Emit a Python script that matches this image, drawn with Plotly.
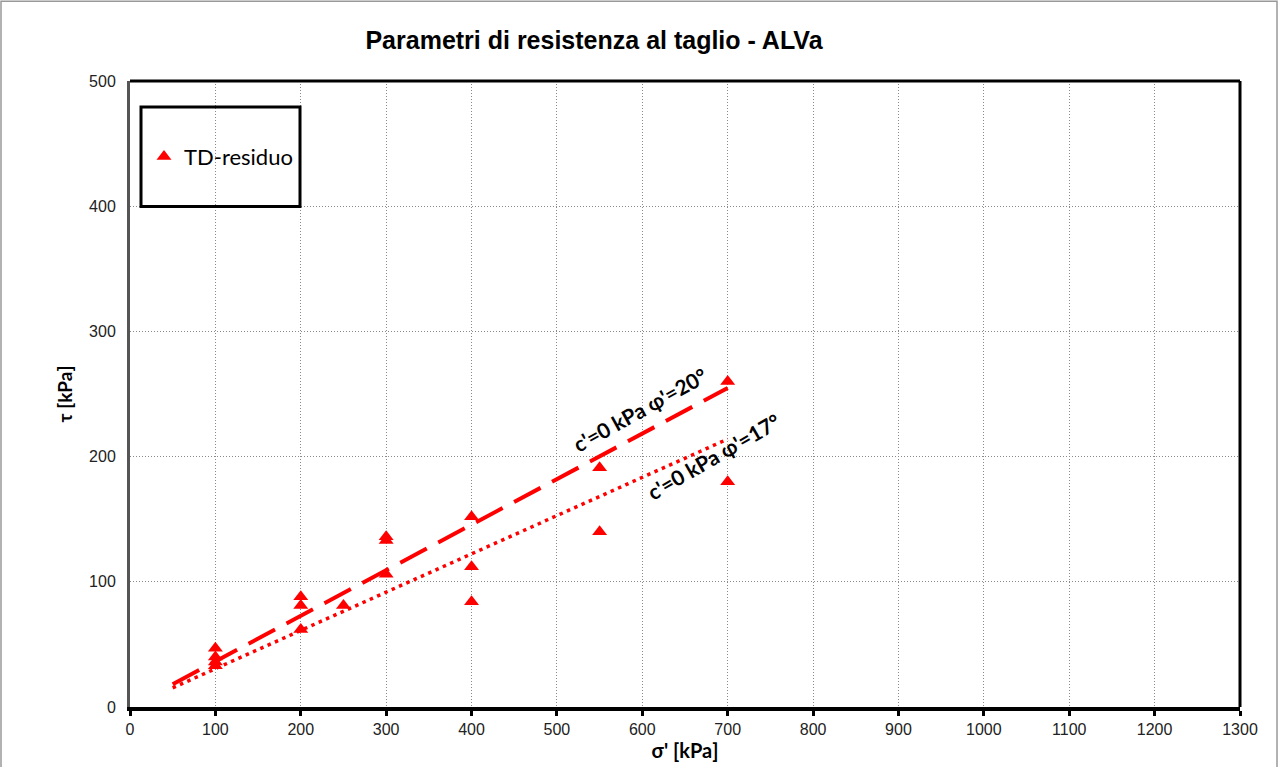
import plotly.graph_objects as go

# Data (sigma' [kPa], tau [kPa])
sigma = [100, 100, 100, 100, 200, 200, 200, 250, 300, 300, 300, 400, 400, 400, 550, 550, 700, 700]
tau = [47, 40, 36, 33, 88, 81, 62, 81, 136, 133, 106, 152, 112, 84, 191, 140, 260, 180]

# Envelope lines (endpoints)
env20_x = [50, 700]
env20_y = [18.2, 254.8]
env17_x = [50, 700]
env17_y = [15.3, 214.0]

x_ticks = list(range(0, 1301, 100))
y_ticks = list(range(0, 501, 100))

RED = "#FF0000"
W, H = 1279, 767
L, R, T, B = 130, 39, 81, 58
PW, PH = W - L - R, H - T - B

fig = go.Figure()
fig.add_trace(go.Scatter(x=env20_x, y=env20_y, mode="lines",
                         line=dict(color=RED, width=4, dash="30px,13px"),
                         showlegend=False, hoverinfo="skip"))
fig.add_trace(go.Scatter(x=env17_x, y=env17_y, mode="lines",
                         line=dict(color=RED, width=3.5, dash="3.5px,4.5px"),
                         showlegend=False, hoverinfo="skip"))
fig.add_trace(go.Scatter(x=sigma, y=tau, mode="markers", name="TD-residuo",
                         marker=dict(symbol="triangle-up", size=13, color=RED)))

fig.update_layout(
    width=W, height=H,
    paper_bgcolor="white", plot_bgcolor="white",
    margin=dict(l=L, r=R, t=T, b=B),
    title=dict(text="<b>Parametri di resistenza al taglio - ALVa</b>",
               x=594 / W, xanchor="center", y=1 - 40 / H, yanchor="middle",
               font=dict(family="Liberation Sans, Arial", size=25, color="black")),
    font=dict(family="Liberation Sans, Arial", size=16, color="black"),
    showlegend=True,
    legend=dict(x=(144 - L) / PW, y=(709 - 157) / PH, xanchor="left", yanchor="middle",
                bgcolor="rgba(0,0,0,0)", borderwidth=0,
                font=dict(family="Lato, Open Sans", size=22, color="black"),
                itemwidth=30),
)

fig.update_xaxes(range=[0, 1300], tickvals=x_ticks, ticktext=[str(v) for v in x_ticks],
                 showgrid=True, gridcolor="#8a8a8a", griddash="1px,2px", gridwidth=1,
                 showline=True, linecolor="black", linewidth=4, mirror=False,
                 ticks="outside", ticklen=5, tickwidth=3, tickcolor="black",
                 tickfont=dict(size=16, family="Liberation Sans, Arial", color="#222222"),
                 zeroline=False,
                 title=dict(text="<b>σ' [kPa]</b>", standoff=3,
                            font=dict(family="Lato, Open Sans", size=20)))
fig.update_yaxes(range=[0, 500], tickvals=y_ticks, ticktext=[str(v) for v in y_ticks],
                 showgrid=True, gridcolor="#8a8a8a", griddash="1px,2px", gridwidth=1,
                 showline=True, linecolor="#555555", linewidth=3,
                 ticks="outside", ticklen=8, tickcolor="rgba(0,0,0,0)",
                 tickfont=dict(size=16, family="Liberation Sans, Arial", color="#222222"),
                 zeroline=False,
                 title=dict(text="<b>τ [kPa]</b>", standoff=12,
                            font=dict(family="Lato, Open Sans", size=19)))

# top and right border of plot area
fig.add_shape(type="line", xref="paper", yref="paper", x0=0, x1=1, y0=1, y1=1,
              line=dict(color="black", width=3))
fig.add_shape(type="line", xref="paper", yref="paper", x0=1, x1=1, y0=0, y1=1,
              line=dict(color="black", width=3))

# legend box
fig.add_shape(type="rect", xref="paper", yref="paper",
              x0=(141 - L) / PW, x1=(300 - L) / PW,
              y0=(709 - 207) / PH, y1=(709 - 107) / PH,
              line=dict(color="black", width=3), fillcolor="rgba(0,0,0,0)")

# outer chart border
fig.add_shape(type="rect", xref="paper", yref="paper",
              x0=(1 - L) / PW, x1=(1277 - L) / PW,
              y0=(709 - 790) / PH, y1=(709 - 1) / PH,
              line=dict(color="#999999", width=1.5), fillcolor="rgba(0,0,0,0)")

fig.add_annotation(x=597, y=238, xref="x", yref="y", text="<b>c'=0 kPa φ'=20°</b>",
                   showarrow=False, textangle=-29,
                   font=dict(family="Lato, Open Sans", size=21, color="black"))
fig.add_annotation(x=683, y=200, xref="x", yref="y", text="<b>c'=0 kPa φ'=17°</b>",
                   showarrow=False, textangle=-30,
                   font=dict(family="Lato, Open Sans", size=21, color="black"))

fig.write_html("out.html", config={"displayModeBar": False},
               post_script="document.body.style.margin='0';document.body.style.overflow='hidden';")
